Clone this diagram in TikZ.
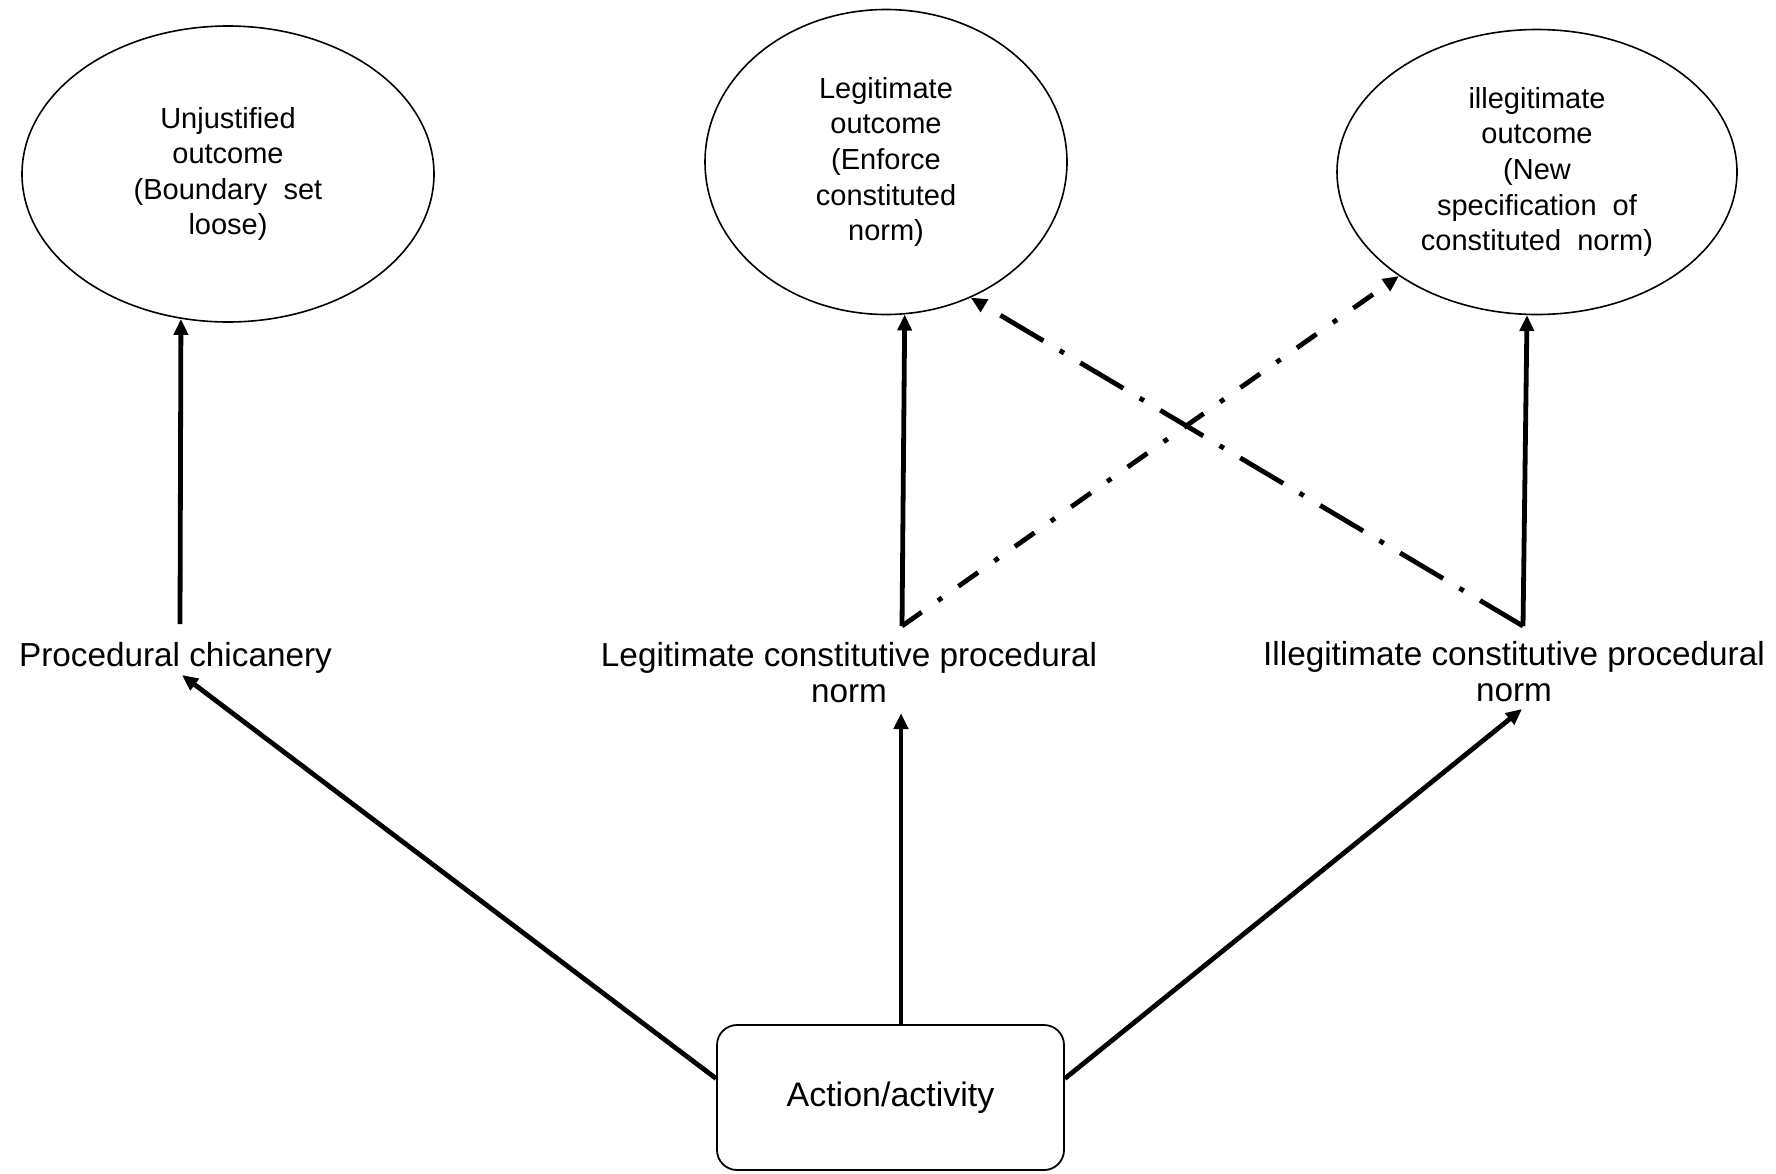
\documentclass[tikz,border=0pt]{standalone}
\usepackage{fontspec}
\setmainfont{Liberation Sans}
\usetikzlibrary{arrows.meta,shapes.geometric}
\begin{document}
\begin{tikzpicture}[x=0.5pt,y=-0.5pt,
  ell/.style={ellipse, draw, line width=0.8pt, inner sep=0pt, align=center, font=\fontsize{14.5pt}{17.8pt}\selectfont},
  lab/.style={align=center, inner sep=0pt, anchor=north, font=\fontsize{16.65pt}{18pt}\selectfont},
  actbox/.style={draw, line width=0.9pt, rounded corners=10pt, minimum width=173.5pt, minimum height=72.5pt, font=\fontsize{17pt}{20pt}\selectfont},
  arr/.style={line width=2.4pt, -{Triangle[length=8pt,width=7pt]}},
  ddlong/.style={arr, dash pattern=on 25pt off 9.5pt on 2.5pt off 9.5pt},
  ddshort/.style={arr, dash pattern=on 12pt off 10pt on 2.5pt off 10pt}]
\useasboundingbox (0,0) rectangle (1776,1173);
% outcomes
\node[ell, minimum width=206pt, minimum height=148pt] (e1) at (228,174)
  {Unjustified\\outcome\\(Boundary\ \ set\\loose)};
\node[ell, minimum width=181pt, minimum height=152.5pt] (e2) at (886,162)
  {Legitimate\\outcome\\(Enforce\\constituted\\norm)};
\node[ell, minimum width=200pt, minimum height=142.5pt] (e3) at (1537,172)
  {illegitimate\\outcome\\(New\\specification\ \ of\\constituted\ \ norm)};
% norms
\node[lab] (pc) at (175.5,642) {Procedural chicanery};
\node[lab] (lg) at (849,642) {Legitimate constitutive procedural\\norm};
\node[lab] (il) at (1514,641) {Illegitimate constitutive procedural\\norm};
% action
\node[actbox] (act) at (890.5,1097.5) {Action/activity};
% connector ends
\coordinate (pcT) at (180,624);
\coordinate (pcB) at (182,675);
\coordinate (lgT) at (902,626);
\coordinate (lgB) at (901,713);
\coordinate (ilT) at (1523,626);
\coordinate (ilB) at (1522,709);
% connectors
\draw[arr] (pcT) -- (e1.-108.4);
\draw[arr] (lgT) -- (e2.-83.6);
\draw[arr] (ilT) -- (e3.-94.8);
\draw[ddshort] (lgT) -- (e3.-143.5);
\draw[ddlong] (ilT) -- (e2.-58.9);
\draw[arr] ([yshift=9.5pt]act.west) -- (pcB);
\draw[arr] (act.north -| lgB) -- (lgB);
\draw[arr] ([yshift=9.5pt]act.east) -- (ilB);
\end{tikzpicture}
\end{document}
